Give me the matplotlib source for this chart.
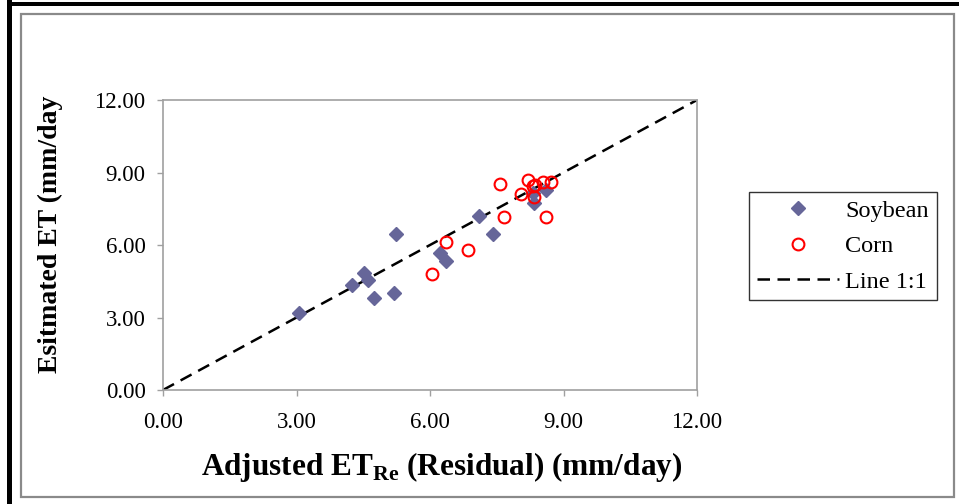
import matplotlib
matplotlib.use("Agg")
import matplotlib.pyplot as plt
from matplotlib.patches import Rectangle

plt.rcParams['font.family'] = ['Liberation Serif', 'DejaVu Serif']
plt.rcParams['mathtext.fontset'] = 'custom'
plt.rcParams['mathtext.rm'] = 'Liberation Serif:bold'
plt.rcParams['mathtext.bf'] = 'Liberation Serif:bold'

# Data
soy_x = [3.05, 4.25, 4.52, 4.61, 4.74, 5.19, 5.24, 6.22, 6.36, 7.10, 7.42, 8.34, 8.60, 8.32]
soy_y = [3.20, 4.34, 4.84, 4.55, 3.81, 4.01, 6.45, 5.67, 5.34, 7.20, 6.45, 7.74, 8.27, 8.15]
corn_x = [6.04, 6.36, 6.85, 7.57, 7.66, 8.05, 8.20, 8.32, 8.36, 8.34, 8.54, 8.71, 8.60]
corn_y = [4.80, 6.12, 5.79, 8.52, 7.15, 8.11, 8.69, 8.44, 8.48, 7.99, 8.60, 8.59, 7.14]
line_x = [0, 12]
line_y = [0, 12]
ticks = [0, 3, 6, 9, 12]
tick_labels = ["0.00", "3.00", "6.00", "9.00", "12.00"]

W, H = 959, 504
fig = plt.figure(figsize=(W / 100, H / 100), dpi=100)

def fx(px):
    return px / W

def fy(py):
    return 1 - py / H

# frame decorations
fig.add_artist(Rectangle((fx(7), fy(H)), fx(12) - fx(7), 1, transform=fig.transFigure,
                         facecolor='black', edgecolor='none'))
fig.add_artist(Rectangle((fx(7), fy(6)), 1, fy(2) - fy(6), transform=fig.transFigure,
                         facecolor='black', edgecolor='none'))
fig.add_artist(Rectangle((fx(21), fy(497)), fx(954) - fx(21), fy(14) - fy(497),
                         transform=fig.transFigure, facecolor='none',
                         edgecolor='#8a8a8a', linewidth=1.6))

ax = fig.add_axes([fx(163), fy(390), fx(697) - fx(163), fy(100) - fy(390)])
ax.set_xlim(0, 12)
ax.set_ylim(0, 12)

sc1, = ax.plot(soy_x, soy_y, linestyle='none', marker='D', markersize=7,
               markerfacecolor='#666699', markeredgecolor='#666699', label='Soybean', zorder=3)
sc2, = ax.plot(corn_x, corn_y, linestyle='none', marker='o', markersize=8.5,
               markerfacecolor='none', markeredgecolor='#ff0000', markeredgewidth=1.5,
               label='Corn', zorder=4)
ln, = ax.plot(line_x, line_y, color='black', linewidth=1.8, dashes=(5, 3),
              label='Line 1:1', zorder=2)

for s in ax.spines.values():
    s.set_color('#a0a0a0')
    s.set_linewidth(1.2)
ax.set_xticks(ticks)
ax.set_xticklabels(tick_labels)
ax.set_yticks(ticks)
ax.set_yticklabels(tick_labels)
ax.tick_params(axis='both', direction='out', length=4.5, width=1, color='#a0a0a0',
               labelsize=16.5, labelcolor='black')
ax.tick_params(axis='y', pad=8)
ax.tick_params(axis='x', pad=11)

fig.text(fx(50), fy(234), 'Esitmated ET (mm/day', rotation=90, ha='center', va='center',
         fontsize=20, fontweight='bold')
fig.text(fx(442), fy(467), r'Adjusted ET$_{\mathrm{Re}}$ (Residual) (mm/day)',
         ha='center', va='center', fontsize=22.5, fontweight='bold')

leg = fig.legend(handles=[sc1, sc2, ln], loc='upper left',
                 bbox_to_anchor=(fx(749), fy(192)), bbox_transform=fig.transFigure,
                 borderaxespad=0, fontsize=17.5, frameon=True, fancybox=False,
                 edgecolor='black', handlelength=3.4, handletextpad=0.25,
                 labelspacing=0.55, borderpad=0.32)
leg.get_frame().set_linewidth(1.0)

fig.savefig('out.png', dpi=100)
